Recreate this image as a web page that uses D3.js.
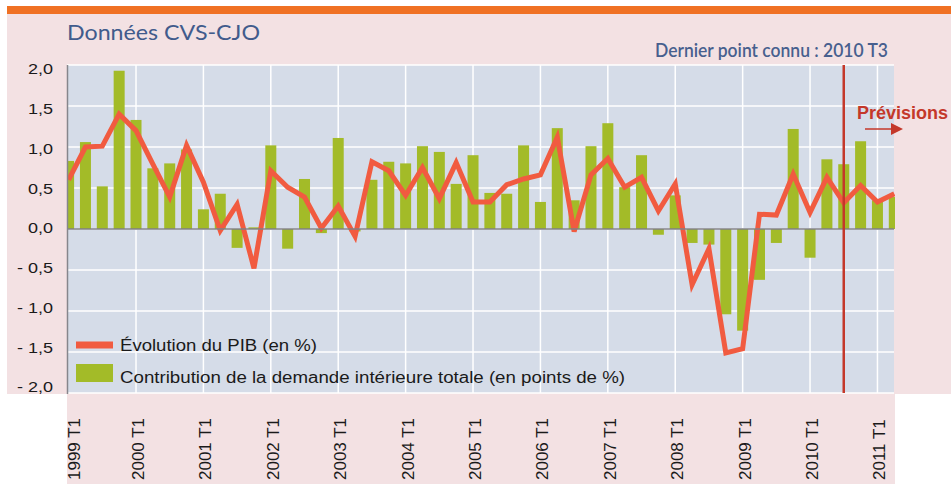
<!DOCTYPE html>
<html>
<head>
<meta charset="utf-8">
<script src="https://cdn.jsdelivr.net/npm/d3@7"></script>
<style>
  body { margin: 0; background: #fff; }
  svg { display: block; }
</style>
</head>
<body>
<svg id="chart"></svg>
<script>
var WIDTH = 951;
var HEIGHT = 484;

// quarterly data, 1999 T1 .. 2011 T2
var pib = [0.60, 1.00, 1.01, 1.40, 1.20, 0.79, 0.39, 1.02, 0.57, -0.02,
           0.30, -0.48, 0.71, 0.51, 0.39, 0.01, 0.28, -0.09, 0.82, 0.71,
           0.41, 0.75, 0.37, 0.81, 0.33, 0.33, 0.54, 0.61, 0.66, 1.12,
           -0.03, 0.66, 0.86, 0.51, 0.63, 0.22, 0.55, -0.68, -0.24, -1.51,
           -1.46, 0.18, 0.17, 0.67, 0.20, 0.63, 0.32, 0.53, 0.33, 0.43];
var demande = [0.83, 1.06, 0.52, 1.93, 1.33, 0.74, 0.80, 0.97, 0.24, 0.43,
               -0.23, 0.02, 1.02, -0.24, 0.61, -0.05, 1.11, -0.03, 0.60, 0.82,
               0.80, 1.01, 0.94, 0.55, 0.90, 0.44, 0.43, 1.02, 0.33, 1.23,
               0.35, 1.01, 1.29, 0.51, 0.90, -0.07, 0.41, -0.17, -0.19, -1.04,
               -1.24, -0.62, -0.17, 1.22, -0.35, 0.85, 0.79, 1.07, 0.35, 0.39];
var yTicks = [2, 1.5, 1, 0.5, 0, -0.5, -1, -1.5, -2];
var xTickLabels = ['1999 T1', '2000 T1', '2001 T1', '2002 T1', '2003 T1', '2004 T1', '2005 T1',
                   '2006 T1', '2007 T1', '2008 T1', '2009 T1', '2010 T1', '2011 T1'];
var lastKnown = 46; // 2010 T3

var plotLeft = 67, plotRight = 894, plotTop = 65, plotBottom = 393;

var x = d3.scaleLinear().domain([0, 49]).range([68.6, 894.3]);
var y = d3.scaleLinear().domain([-2, 2]).range([plotBottom, plotTop]);
var yLab = d3.scaleLinear().domain([-2, 2]).range([387, 69]); // labels sit slightly tighter than grid
var barW = 11;

var svg = d3.select('#chart').attr('width', WIDTH).attr('height', HEIGHT);

// background panels
svg.append('rect').attr('x', 7).attr('y', 6).attr('width', WIDTH - 7).attr('height', 8).attr('fill', '#f07124');
svg.append('rect').attr('x', 7).attr('y', 14).attr('width', WIDTH - 7).attr('height', 380).attr('fill', '#f3e1e3');
svg.append('rect').attr('x', plotLeft).attr('y', 394).attr('width', plotRight - plotLeft + 1).attr('height', HEIGHT - 394).attr('fill', '#f3e1e3');
svg.append('rect').attr('x', plotLeft).attr('y', plotTop).attr('width', plotRight - plotLeft).attr('height', plotBottom - plotTop).attr('fill', '#d5dce8');

svg.append('clipPath').attr('id', 'clip')
    .append('rect').attr('x', plotLeft + 1).attr('y', plotTop).attr('width', plotRight - plotLeft).attr('height', plotBottom - plotTop);

// grid
svg.append('g').selectAll('line').data(yTicks).enter().append('line')
    .attr('x1', plotLeft).attr('x2', plotRight)
    .attr('y1', function(d) { return y(d); }).attr('y2', function(d) { return y(d); })
    .attr('stroke', '#fff').attr('stroke-width', 1.5);
var yearIdx = xTickLabels.map(function(d, i) { return i * 4; });
svg.append('g').selectAll('line').data(yearIdx.slice(1)).enter().append('line')
    .attr('x1', function(d) { return x(d); }).attr('x2', function(d) { return x(d); })
    .attr('y1', plotTop).attr('y2', plotBottom)
    .attr('stroke', '#fff').attr('stroke-width', 1.5);

var plot = svg.append('g').attr('clip-path', 'url(#clip)');

// bars
plot.selectAll('rect.bar').data(demande).enter().append('rect')
    .attr('class', 'bar')
    .attr('x', function(d, i) { return x(i) - barW / 2; })
    .attr('width', barW)
    .attr('y', function(d) { return y(Math.max(0, d)); })
    .attr('height', function(d) { return Math.abs(y(d) - y(0)); })
    .attr('fill', '#a3bb28');

// zero line and left axis
svg.append('line').attr('x1', plotLeft).attr('x2', plotRight).attr('y1', y(0)).attr('y2', y(0))
    .attr('stroke', '#7f7f86').attr('stroke-width', 1.5);
svg.append('line').attr('x1', plotLeft + 0.5).attr('x2', plotLeft + 0.5).attr('y1', plotTop).attr('y2', plotBottom + 1)
    .attr('stroke', '#86868c').attr('stroke-width', 1.5);

// last known point
svg.append('line').attr('x1', x(lastKnown)).attr('x2', x(lastKnown)).attr('y1', plotTop).attr('y2', plotBottom)
    .attr('stroke', '#c4382a').attr('stroke-width', 2.5);

// GDP line
var line = d3.line().x(function(d, i) { return x(i); }).y(function(d) { return y(d); });
plot.append('path').datum(pib)
    .attr('d', line)
    .attr('fill', 'none')
    .attr('stroke', '#f15b40')
    .attr('stroke-width', 5)
    .attr('stroke-linejoin', 'miter');

// y labels
svg.append('g').selectAll('text').data(yTicks).enter().append('text')
    .attr('transform', function(d) { return 'translate(53,' + yLab(d) + ') scale(1.2,1)'; })
    .attr('dy', '0.35em')
    .attr('text-anchor', 'end')
    .style('font', '15px "Liberation Sans", Arial, sans-serif')
    .attr('fill', '#1a1a1a')
    .text(function(d) {
        var s = d3.format('.1f')(Math.abs(d)).replace('.', ',');
        return d < 0 ? '- ' + s : s;
    });

// x labels (rotated)
svg.append('g').selectAll('text').data(xTickLabels).enter().append('text')
    .attr('transform', function(d, i) {
        var cx = Math.max(74, x(i * 4) + 2);
        return 'translate(' + cx + ',480) rotate(-90)';
    })
    .attr('dy', '0.35em')
    .style('font', '17px "Liberation Sans", Arial, sans-serif')
    .attr('fill', '#1a1a1a')
    .text(function(d) { return d; });

// titles
svg.append('text').attr('x', 67).attr('y', 40)
    .attr('textLength', 193).attr('lengthAdjust', 'spacingAndGlyphs')
    .style('font', '21px Lato, sans-serif')
    .attr('fill', '#415b8c')
    .text('Données CVS-CJO');
svg.append('text').attr('x', 655).attr('y', 57)
    .attr('textLength', 233).attr('lengthAdjust', 'spacingAndGlyphs')
    .style('font', '600 19px Lato, sans-serif')
    .attr('fill', '#475f8e')
    .text('Dernier point connu : 2010 T3');

// forecast label
svg.append('text').attr('x', 857).attr('y', 119)
    .style('font', 'bold 18px "Liberation Sans", Arial, sans-serif')
    .attr('fill', '#c4382a')
    .text('Prévisions');
svg.append('line').attr('x1', 865).attr('x2', 893).attr('y1', 129).attr('y2', 129)
    .attr('stroke', '#c4382a').attr('stroke-width', 1.5);
svg.append('path').attr('d', 'M891,123L903,129L891,135Z').attr('fill', '#c4382a');

// legend
var legend = svg.append('g');
legend.append('line').attr('x1', 76).attr('x2', 113).attr('y1', 345).attr('y2', 345)
    .attr('stroke', '#f15b40').attr('stroke-width', 7);
legend.append('rect').attr('x', 76).attr('y', 364).attr('width', 37).attr('height', 18).attr('fill', '#a3bb28');
legend.append('text').attr('x', 120).attr('y', 345).attr('dy', '0.35em')
    .attr('textLength', 197).attr('lengthAdjust', 'spacingAndGlyphs')
    .style('font', '16px "Liberation Sans", Arial, sans-serif').attr('fill', '#1a1a1a')
    .text('Évolution du PIB (en %)');
legend.append('text').attr('x', 120).attr('y', 377).attr('dy', '0.35em')
    .attr('textLength', 505).attr('lengthAdjust', 'spacingAndGlyphs')
    .style('font', '16px "Liberation Sans", Arial, sans-serif').attr('fill', '#1a1a1a')
    .text('Contribution de la demande intérieure totale (en points de %)');
</script>
</body>
</html>
